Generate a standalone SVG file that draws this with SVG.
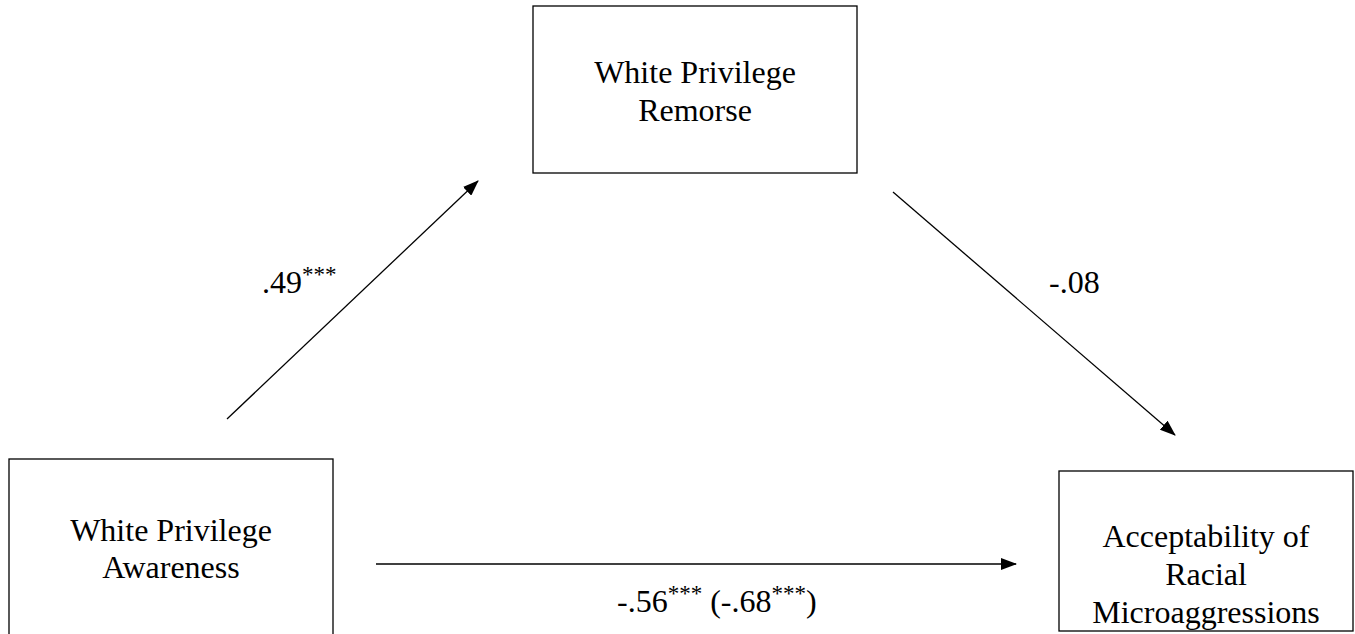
<svg xmlns="http://www.w3.org/2000/svg" width="1355" height="634" viewBox="0 0 1355 634">
<style>
.box{fill:#fff;stroke:#000;stroke-width:1.3}
.t{font-family:"Liberation Serif","Times New Roman",serif;font-size:32px;fill:#000;text-anchor:middle}
.l{font-family:"Liberation Serif","Times New Roman",serif;font-size:32px;fill:#000}
.sup{font-size:23px}
.c{stroke:#000;stroke-width:1.3;fill:none;marker-end:url(#ah)}
</style>
<defs>
<marker id="ah" markerWidth="16" markerHeight="12" refX="15" refY="6" orient="auto" markerUnits="userSpaceOnUse">
<path d="M0,0 L16,6 L0,12 Z" fill="#000"/>
</marker>
</defs>
<rect width="1355" height="634" fill="#fff"/>
<g id="remorse">
<rect class="box" x="533" y="6" width="324" height="167"/>
<text class="t" x="695" y="83">White Privilege</text>
<text class="t" x="695" y="121">Remorse</text>
</g>
<g id="awareness">
<rect class="box" x="9" y="459" width="324" height="190"/>
<text class="t" x="171" y="541">White Privilege</text>
<text class="t" x="171" y="578">Awareness</text>
</g>
<g id="acceptability">
<rect class="box" x="1059" y="471" width="294" height="160"/>
<text class="t" x="1206" y="547">Acceptability of</text>
<text class="t" x="1206" y="585">Racial</text>
<text class="t" x="1206" y="623">Microaggressions</text>
</g>
<g id="connectors">
<line class="c" x1="227" y1="419" x2="478" y2="181"/>
<line class="c" x1="893" y1="192" x2="1175" y2="435"/>
<line class="c" x1="376" y1="564" x2="1016" y2="564"/>
</g>
<g id="labels">
<text class="l" x="262" y="293">.49<tspan class="sup" dy="-11">***</tspan></text>
<text class="l" x="1049" y="293">-.08</text>
<text class="l" x="617" y="612">-.56<tspan class="sup" dy="-11">***</tspan><tspan dy="11"> (-.68</tspan><tspan class="sup" dy="-11">***</tspan><tspan dy="11">)</tspan></text>
</g>
</svg>
